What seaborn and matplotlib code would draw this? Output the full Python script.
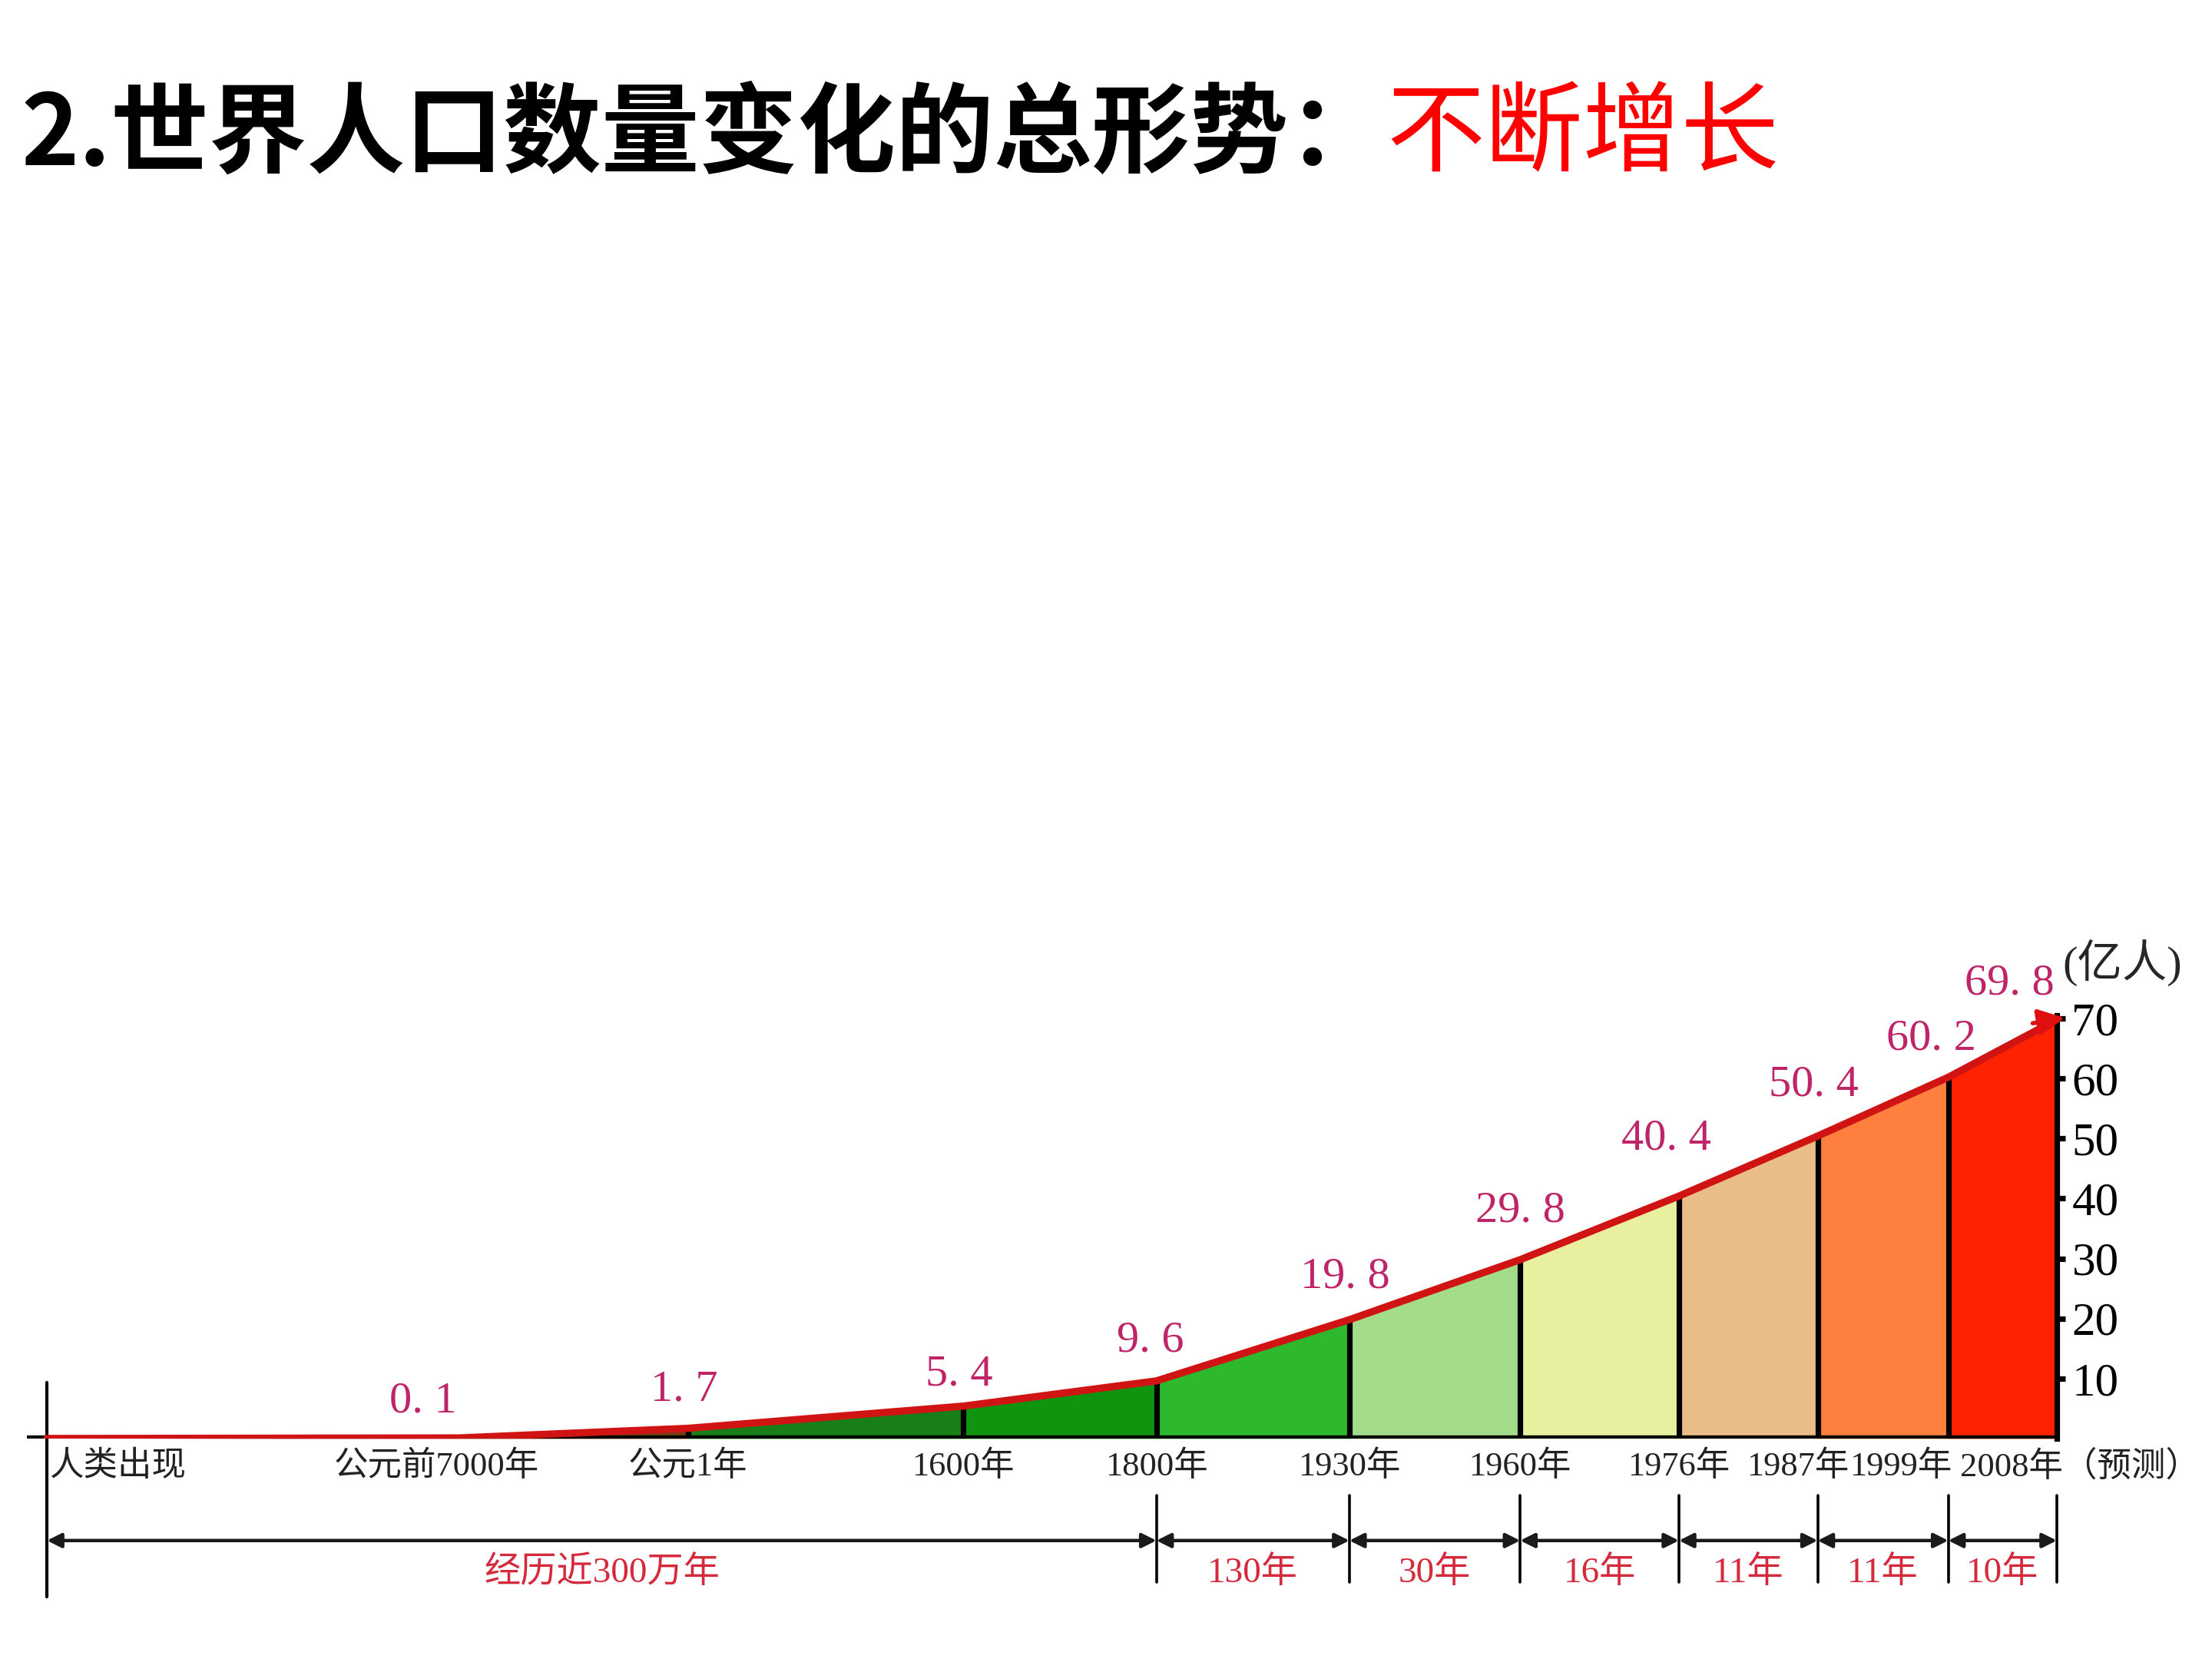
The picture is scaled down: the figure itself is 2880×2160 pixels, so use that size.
import pandas as pd
import seaborn as sns
import matplotlib.pyplot as plt

# values (亿人)
periods = ['人类出现', '公元前7000年', '公元1年', '1600年', '1800年', '1930年',
           '1960年', '1976年', '1987年', '1999年', '2008年（预测）']
population = [0, 0.1, 1.7, 5.4, 9.6, 19.8, 29.8, 40.4, 50.4, 60.2, 69.8]
# the time axis of the original is schematic, not to scale
axis_pos = [0, 20.5, 31.9, 45.6, 55.2, 64.8, 73.3, 81.2, 88.1, 94.6, 100]

spans = ['经历近300万年', '130年', '30年', '16年', '11年', '11年', '10年']
span_edges = ['人类出现', '1800年', '1930年', '1960年', '1976年', '1987年', '1999年', '2008年（预测）']
y_ticks = [10, 20, 30, 40, 50, 60, 70]

df = pd.DataFrame({'period': periods, 'pos': axis_pos, 'pop': population})
pos_of = dict(zip(periods, axis_pos))

# styling
seg_colors = ['#a01830', '#7a3a12', '#187e18', '#109410', '#2db82d', '#a3dc8a',
              '#e8f0a0', '#e9bd88', '#ff7f3f', '#ff2200']
val_dx = [-17, -2, -2, -3, -2, 0, -6, -2, -8, -23]     # points, for labels 1..10
val_dy = [17, 18, 15, 19, 20, 23, 27, 24, 18, 17]
lab_anchor = {'人类出现': ('left', 0.1), '公元前7000年': ('center', -1.1),
              '1987年': ('center', -1.0), '1999年': ('right', 0.2),
              '2008年（预测）': ('left', -4.8)}

sns.set_theme(style='white')
plt.rcParams['font.family'] = ['Liberation Serif', 'Noto Sans CJK SC', 'DejaVu Sans']
plt.rcParams['axes.unicode_minus'] = False
cjk_serif = ['Liberation Serif', 'Noto Sans CJK SC']

fig = plt.figure(figsize=(14.4, 10.8), dpi=200)
ax = fig.add_axes([0.01215, 0.1329, 0.9177, 0.2713])
ax.set_xlim(-1, 100)
ax.set_ylim(0, 75)

# coloured segments under the curve
for i in range(len(df) - 1):
    part = df.iloc[i:i + 2]
    ax.fill_between(part['pos'], 0, part['pop'], color=seg_colors[i], lw=0, zorder=1)

# black dividers at each date
inner = df.iloc[2:10]
ax.vlines(inner['pos'], 0, inner['pop'], color='black', lw=2.6, zorder=2)

# baseline and left marker line
ax.axhline(0, color='black', lw=3, zorder=3)
ax.plot([0, 0], [9.3, -26.4], color='black', lw=1.5, clip_on=False, zorder=6)

# red growth line
sns.lineplot(data=df, x='pos', y='pop', ax=ax, color='#d01414', lw=3.4,
             sort=False, zorder=7, legend=False)
last = df.iloc[-1]
ax.annotate('', xy=(last['pos'] + 0.4, last['pop'] + 0.3),
            xytext=(last['pos'] - 1.2, last['pop'] - 0.6),
            arrowprops=dict(arrowstyle='-|>', color='#e01010', lw=2,
                            mutation_scale=26, shrinkA=0, shrinkB=0),
            annotation_clip=False, zorder=8)

# value labels
for i in range(1, len(df)):
    r = df.iloc[i]
    ha = 'right' if i == len(df) - 1 else 'center'
    dx = val_dx[i - 1] if ha == 'center' else -1
    ax.annotate(f"{r['pop']:.1f}".replace('.', '. '), xy=(r['pos'], r['pop']),
                xytext=(dx, val_dy[i - 1]), textcoords='offset points',
                ha=ha, va='center', fontsize=21, color='#c02468',
                family=cjk_serif, annotation_clip=False)

# period labels under the baseline
for p, x in zip(periods, axis_pos):
    ha, dx = lab_anchor.get(p, ('center', 0))
    ax.text(x + dx, -4.7, p, ha=ha, va='center', fontsize=16, color='#222222',
            family=cjk_serif, clip_on=False)

# duration arrows
for k, txt in enumerate(spans):
    a, b = pos_of[span_edges[k]], pos_of[span_edges[k + 1]]
    ax.annotate('', xy=(a, -17), xytext=(b, -17),
                arrowprops=dict(arrowstyle='<|-|>', color='#1a1a1a', lw=1.6,
                                mutation_scale=14, shrinkA=0, shrinkB=0),
                annotation_clip=False)
    ax.text((a + b) / 2, -22.4, txt, ha='center', va='center', fontsize=17,
            color='#d42a3c', family=cjk_serif, clip_on=False)
for e in span_edges[1:]:
    ax.plot([pos_of[e]] * 2, [-9.5, -24], color='black', lw=1.3, clip_on=False)

# right value axis
for s in ['top', 'left', 'bottom']:
    ax.spines[s].set_visible(False)
ax.spines['right'].set_color('black')
ax.spines['right'].set_linewidth(2.6)
ax.spines['right'].set_bounds(0, 70.5)
ax.yaxis.tick_right()
ax.set_yticks(y_ticks)
ax.set_yticklabels([str(t) for t in y_ticks], fontsize=22, family=cjk_serif)
ax.tick_params(axis='y', direction='out', length=4, width=2.6, pad=3, colors='black')
ax.set_xticks([])
ax.set_xlabel('')
ax.set_ylabel('')
ax.text(100.3, 79.2, '(亿人)', ha='left', va='center', fontsize=21,
        family=cjk_serif, clip_on=False)

# title
t1 = fig.text(0.0097, 0.918, '2.世界人口数量变化的总形势：', fontsize=46,
              family=['Noto Sans CJK SC'], weight='bold', va='center', color='black')
fig.canvas.draw()
bb = t1.get_window_extent().transformed(fig.transFigure.inverted())
fig.text(bb.x1, 0.918, '不断增长', fontsize=46, family=['Noto Sans CJK SC'],
         va='center', color='#ff0000')

plt.savefig('out.png', dpi=200, facecolor='white')
